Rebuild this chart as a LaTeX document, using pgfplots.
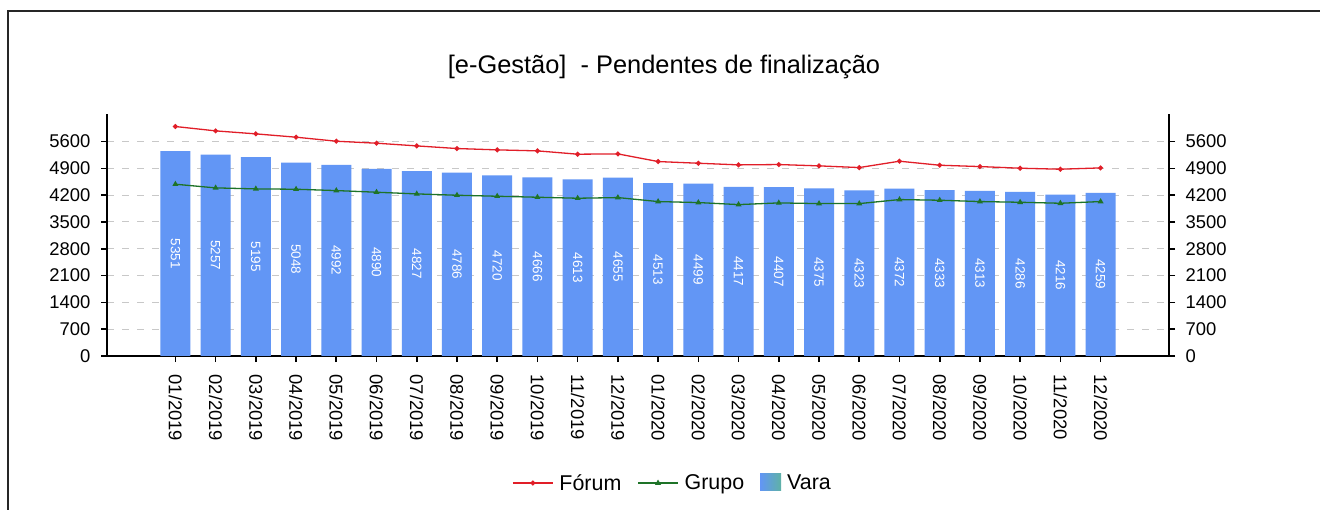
\documentclass[border=0pt]{standalone}
\usepackage{fontspec}
\setmainfont{Liberation Sans}
\usepackage{pgfplots}
\pgfplotsset{compat=1.18}
\usepackage{pgfplotstable}
\definecolor{barblue}{RGB}{98,150,245}
\definecolor{barteal}{RGB}{95,178,165}
\definecolor{forumred}{RGB}{225,30,40}
\definecolor{grupogreen}{RGB}{30,115,40}
\definecolor{gridgray}{RGB}{200,200,200}

\pgfplotsset{
  lineleg/.style={legend image code/.code={\draw[mark repeat=2,mark phase=2,##1] plot coordinates {(0bp,0bp) (20bp,0bp) (40bp,0bp)};}},
  barleg/.style={legend image code/.code={\shade[draw=none, left color=barblue, right color=barteal] (0bp,-7bp) rectangle (21bp,10bp);}},
}

\pgfplotstableread{
x forum grupo vara
0 5993 4486 5351
1 5879 4390 5257
2 5801 4364 5195
3 5714 4355 5048
4 5609 4320 4992
5 5557 4277 4890
6 5487 4233 4827
7 5418 4198 4786
8 5383 4172 4720
9 5357 4146 4666
10 5270 4120 4613
11 5278 4137 4655
12 5078 4033 4513
13 5034 4007 4499
14 4991 3954 4417
15 5000 3998 4407
16 4965 3980 4375
17 4921 3980 4323
18 5087 4085 4372
19 4982 4068 4333
20 4947 4033 4313
21 4904 4015 4286
22 4878 3989 4216
23 4912 4033 4259
}\datatable

\begin{document}
\begin{tikzpicture}
\useasboundingbox (0,0) rectangle (1320bp,510bp);
\fill[white] (0,0) rectangle (1320bp,510bp);
\draw[line width=1.6bp, black!85] (8bp,0) -- (8bp,499bp) -- (1320bp,499bp);
\node[font=\fontsize{25.5}{30}\selectfont] at (664bp,443bp) {[e-Gestão]\ \ - Pendentes de finalização};

\pgfplotsset{
  common/.style={
    scale only axis, width=1062bp, height=242bp,
    at={(107bp,154bp)}, anchor=south west,
    xmin=-1.7, xmax=24.7, ymin=0, ymax=6320,
    ytick={0,700,...,5600},
    tick align=outside, major tick length=6bp,
    major tick style={line width=1.6bp, black},
    axis line style={line width=1.8bp, black},
    ticklabel style={font=\fontsize{18.5}{20}\selectfont},
    yticklabel shift=7bp,
    /pgf/number format/assume math mode=true,
    /pgf/number format/1000 sep={},
  }
}
\begin{axis}[common,
  axis x line*=bottom, axis y line*=left,
  xtick={0,...,23},
  xticklabels={01/2019,02/2019,03/2019,04/2019,05/2019,06/2019,07/2019,08/2019,09/2019,10/2019,11/2019,12/2019,01/2020,02/2020,03/2020,04/2020,05/2020,06/2020,07/2020,08/2020,09/2020,10/2020,11/2020,12/2020},
  xticklabel style={rotate=-90, anchor=west, font=\fontsize{18.5}{20}\selectfont},
  xticklabel shift=9bp,
  ymajorgrids, grid style={gridgray, dash pattern=on 7bp off 8bp, line width=1bp},
  legend style={at={(0.5325,-0.525)}, anchor=center, legend columns=-1, draw=none, fill=none,
    font=\fontsize{21.5}{24}\selectfont,
    /tikz/every odd column/.append style={column sep=4bp},
    /tikz/every even column/.append style={column sep=14bp}},
  legend cell align=left,
]
\addplot[ybar, bar width=30bp, fill=barblue, draw=none, forget plot] table[x=x, y=vara] {\datatable};
\addplot[draw=none, forget plot, nodes near coords, point meta=explicit symbolic,
  every node near coord/.append style={anchor=center, rotate=-90, text=white, font=\fontsize{13.5}{15}\selectfont}]
  table[x=x, y expr=\thisrow{vara}/2, meta=vara] {\datatable};
\addplot[forumred, line width=1.3bp, mark=*, mark size=1.8bp, mark options={fill=forumred}, lineleg]
  table[x=x, y=forum] {\datatable};
\addlegendentry{Fórum}
\addplot[grupogreen, line width=1.3bp, mark=triangle*, mark size=2.2bp, mark options={fill=grupogreen}, lineleg]
  table[x=x, y=grupo] {\datatable};
\addlegendentry{Grupo}
\addlegendimage{barleg}
\addlegendentry{Vara}
\end{axis}
\begin{axis}[common, axis x line=none, axis y line*=right]
\addplot[draw=none] coordinates {(0,0)};
\end{axis}
\end{tikzpicture}
\end{document}
